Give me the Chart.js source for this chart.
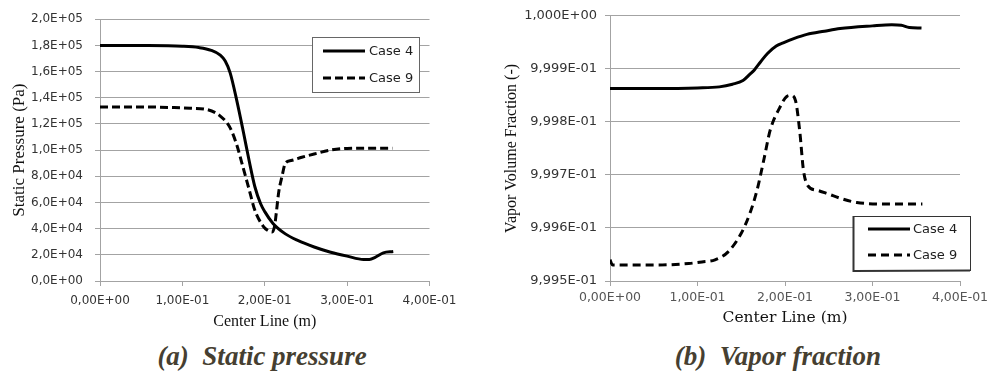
<!DOCTYPE html>
<html>
<head>
<meta charset="utf-8">
<script src="https://cdn.jsdelivr.net/npm/chart.js@4"></script>
<style>
  html, body { margin: 0; padding: 0; background: #fff; overflow: hidden; }
  #wrap { position: relative; width: 992px; height: 372px; overflow: hidden; background: #fff; }
  canvas { position: absolute; top: 0; }
  .cap {
    position: absolute; top: 343px; width: 300px; text-align: center;
    font: italic bold 27px/27px "Liberation Serif", "Times New Roman", serif;
    color: #463f31; white-space: pre;
  }
</style>
</head>
<body>
<div id="wrap">
  <canvas id="pressure" width="470" height="340" style="left:0px"></canvas>
  <canvas id="vapor" width="510" height="340" style="left:496px"></canvas>
  <div class="cap" style="left:112px">(a)  Static pressure</div>
  <div class="cap" style="left:628px">(b)  Vapor fraction</div>
</div>
<script>
// Series labels
const seriesNames = ['Case 4', 'Case 9'];

// Static pressure along the center line (m, Pa)
const pCase4X = [0, 0.05, 0.10, 0.12, 0.135, 0.146, 0.152, 0.158, 0.166, 0.174, 0.181, 0.188, 0.195, 0.20, 0.21, 0.225, 0.24, 0.26, 0.28, 0.30, 0.32, 0.327, 0.334, 0.344, 0.356];
const pCase4Y = [180000, 179900, 179300, 178300, 176200, 172500, 168000, 159000, 138000, 114000, 92000, 72000, 59000, 53000, 44000, 36000, 31000, 26000, 22000, 19000, 16500, 16500, 18000, 21500, 22500];
const pCase9X = [0, 0.05, 0.09, 0.11, 0.13, 0.146, 0.158, 0.166, 0.174, 0.181, 0.188, 0.198, 0.204, 0.209, 0.212, 0.214, 0.217, 0.221, 0.225, 0.232, 0.245, 0.26, 0.28, 0.30, 0.33, 0.355];
const pCase9Y = [133000, 133000, 132500, 132000, 131000, 126000, 117000, 104000, 86000, 70000, 54000, 42000, 38500, 37500, 42000, 52000, 68000, 80000, 90000, 92000, 94500, 97000, 100000, 101300, 101500, 101500];

// Vapor volume fraction along the center line (m, -)
const vCase4X = [0, 0.05, 0.10, 0.125, 0.14, 0.152, 0.16, 0.165, 0.172, 0.18, 0.19, 0.198, 0.21, 0.225, 0.245, 0.263, 0.30, 0.322, 0.333, 0.342, 0.356];
const vCase4Y = [0.999863, 0.999863, 0.999864, 0.999866, 0.999871, 0.999878, 0.99989, 0.999898, 0.999913, 0.999929, 0.999943, 0.999949, 0.999957, 0.999965, 0.999971, 0.999976, 0.999981, 0.999983, 0.999982, 0.999978, 0.999977];
const vCase9X = [0, 0.003, 0.05, 0.09, 0.105, 0.12, 0.135, 0.15, 0.16, 0.168, 0.176, 0.183, 0.194, 0.202, 0.207, 0.212, 0.217, 0.221, 0.226, 0.237, 0.248, 0.265, 0.282, 0.32, 0.357];
const vCase9Y = [0.99954, 0.99953, 0.99953, 0.999533, 0.999536, 0.99954, 0.999555, 0.99959, 0.999628, 0.999671, 0.99973, 0.999784, 0.999827, 0.999848, 0.99985, 0.99984, 0.99978, 0.99971, 0.99968, 0.999671, 0.999665, 0.999655, 0.999648, 0.999645, 0.999645];

// Axis ticks
const xTicks = [0, 0.1, 0.2, 0.3, 0.4];
const pTicks = [0, 20000, 40000, 60000, 80000, 100000, 120000, 140000, 160000, 180000, 200000];
const vTicks = [0.9995, 0.9996, 0.9997, 0.9998, 0.9999, 1.0];

// Spreadsheet-style scientific notation with a decimal comma: 1,00E-01
function sci(v, digits) {
  const s = Number(v).toExponential(digits);
  const [m, e] = s.split('e');
  const sign = e[0] === '-' ? '-' : '+';
  const ex = Math.abs(parseInt(e, 10)).toString().padStart(2, '0');
  return m.replace('.', ',') + 'E' + sign + ex;
}

const pts = (xs, ys) => xs.map((x, i) => ({ x: x, y: ys[i] }));

// Legend drawn as a boxed key inside the plot area
const boxLegend = {
  id: 'boxLegend',
  afterDraw(chart, args, o) {
    const { ctx, chartArea } = chart;
    const x0 = Math.round(chartArea.left + o.left), y0 = Math.round(chartArea.top + o.top);
    ctx.save();
    ctx.fillStyle = '#fff';
    ctx.fillRect(x0, y0, o.width, o.height);
    ctx.strokeStyle = o.borderColor;
    ctx.lineWidth = 1;
    ctx.strokeRect(x0 + 0.5, y0 + 0.5, o.width, o.height);
    if (o.leftEdge) {
      ctx.lineWidth = o.leftEdge;
      ctx.beginPath();
      ctx.moveTo(x0 + 0.5, y0);
      ctx.lineTo(x0 + 0.5, y0 + o.height + 1);
      ctx.lineTo(x0 + o.width, y0 + o.height + 0.5);
      ctx.stroke();
    }
    chart.data.datasets.forEach((ds, i) => {
      const yy = y0 + o.rowTop + i * o.rowGap;
      ctx.beginPath();
      ctx.setLineDash(ds.borderDash || []);
      ctx.lineWidth = ds.borderWidth;
      ctx.strokeStyle = ds.borderColor;
      ctx.moveTo(x0 + o.lineStart, yy);
      ctx.lineTo(x0 + o.lineEnd, yy);
      ctx.stroke();
      ctx.setLineDash([]);
      ctx.fillStyle = '#1e1e1e';
      ctx.font = '13px "DejaVu Sans"';
      ctx.textBaseline = 'middle';
      ctx.textAlign = 'left';
      ctx.fillText(ds.label, x0 + o.textStart, yy + 1);
    });
    ctx.restore();
  }
};

const gridGray = '#a3a3a3';

function makeChart(id, cfg) {
  return new Chart(document.getElementById(id), {
    type: 'line',
    data: {
      datasets: [
        { label: seriesNames[0], data: cfg.s1, borderColor: '#000', borderWidth: 3, pointRadius: 0,
          cubicInterpolationMode: 'monotone', fill: false },
        { label: seriesNames[1], data: cfg.s2, borderColor: '#000', borderWidth: 3, borderDash: cfg.dash,
          pointRadius: 0, cubicInterpolationMode: 'monotone', fill: false }
      ]
    },
    options: {
      responsive: false,
      animation: false,
      events: [],
      layout: { padding: { left: 0, top: 15, right: cfg.padRight, bottom: 0 } },
      plugins: {
        legend: { display: false },
        tooltip: { enabled: false },
        boxLegend: cfg.legend
      },
      scales: {
        x: {
          type: 'linear', min: 0, max: 0.4,
          afterBuildTicks: s => { s.ticks = xTicks.map(v => ({ value: v })); },
          afterFit: s => { s.height = cfg.xAxisHeight; },
          grid: { drawOnChartArea: false, drawTicks: true, tickLength: 5, color: gridGray },
          border: { display: true, color: gridGray },
          ticks: { callback: v => sci(v, 2), color: cfg.xTickColor, padding: cfg.xTickPad,
                   maxRotation: 0, autoSkip: false,
                   font: { family: 'DejaVu Sans', size: cfg.xTickSize, lineHeight: 1.2 } },
          title: { display: true, text: 'Center Line (m)', color: '#111',
                   font: { family: cfg.xTitleFamily, size: cfg.xTitleSize, lineHeight: 1.2 },
                   padding: { top: 0, bottom: cfg.xTitlePad } }
        },
        y: {
          type: 'linear', min: cfg.yMin, max: cfg.yMax,
          afterBuildTicks: s => { s.ticks = cfg.yTicks.map(v => ({ value: v })); },
          afterFit: s => { s.width = cfg.yAxisWidth; },
          grid: { drawTicks: true, tickLength: 5, color: gridGray },
          border: { display: true, color: gridGray },
          ticks: { callback: v => sci(v, cfg.yDigits), color: '#333', padding: cfg.yTickPad, autoSkip: false,
                   font: { family: 'DejaVu Sans', size: cfg.yTickSize, lineHeight: 1.2 } },
          title: { display: true, text: cfg.yTitle, color: '#111',
                   font: { family: 'Liberation Serif', size: cfg.yTitleSize, lineHeight: 1.2 },
                   padding: { top: cfg.yTitlePad, bottom: 0 } }
        }
      }
    },
    plugins: [boxLegend]
  });
}

makeChart('pressure', {
  s1: pts(pCase4X, pCase4Y), s2: pts(pCase9X, pCase9Y), dash: [8, 4],
  padRight: 40.5, xAxisHeight: 59, yAxisWidth: 100,
  yMin: 0, yMax: 200000, yTicks: pTicks, yDigits: 1,
  yTitle: 'Static Pressure (Pa)', yTitleSize: 17, yTitlePad: 9.5, yTickPad: 12, yTickSize: 12,
  xTickSize: 12, xTickPad: 8, xTickColor: '#333',
  xTitleFamily: 'Liberation Serif', xTitleSize: 16, xTitlePad: 9,
  legend: { left: 212, top: 18, width: 107, height: 55, borderColor: '#666',
            rowTop: 14, rowGap: 27, lineStart: 11, lineEnd: 53, textStart: 57 }
});

makeChart('vapor', {
  s1: pts(vCase4X, vCase4Y), s2: pts(vCase9X, vCase9Y), dash: [8, 5],
  padRight: 46, xAxisHeight: 59, yAxisWidth: 114,
  yMin: 0.9995, yMax: 1.0, yTicks: vTicks, yDigits: 3,
  yTitle: 'Vapor Volume Fraction (-)', yTitleSize: 16, yTitlePad: 6.5, yTickPad: 8, yTickSize: 13,
  xTickSize: 12.5, xTickPad: 4, xTickColor: '#555',
  xTitleFamily: 'DejaVu Serif', xTitleSize: 15.5, xTitlePad: 13,
  legend: { left: 243, top: 200, width: 117, height: 54, borderColor: '#333', leftEdge: 2,
            rowTop: 13, rowGap: 26, lineStart: 15, lineEnd: 57, textStart: 60 }
});
</script>
</body>
</html>
